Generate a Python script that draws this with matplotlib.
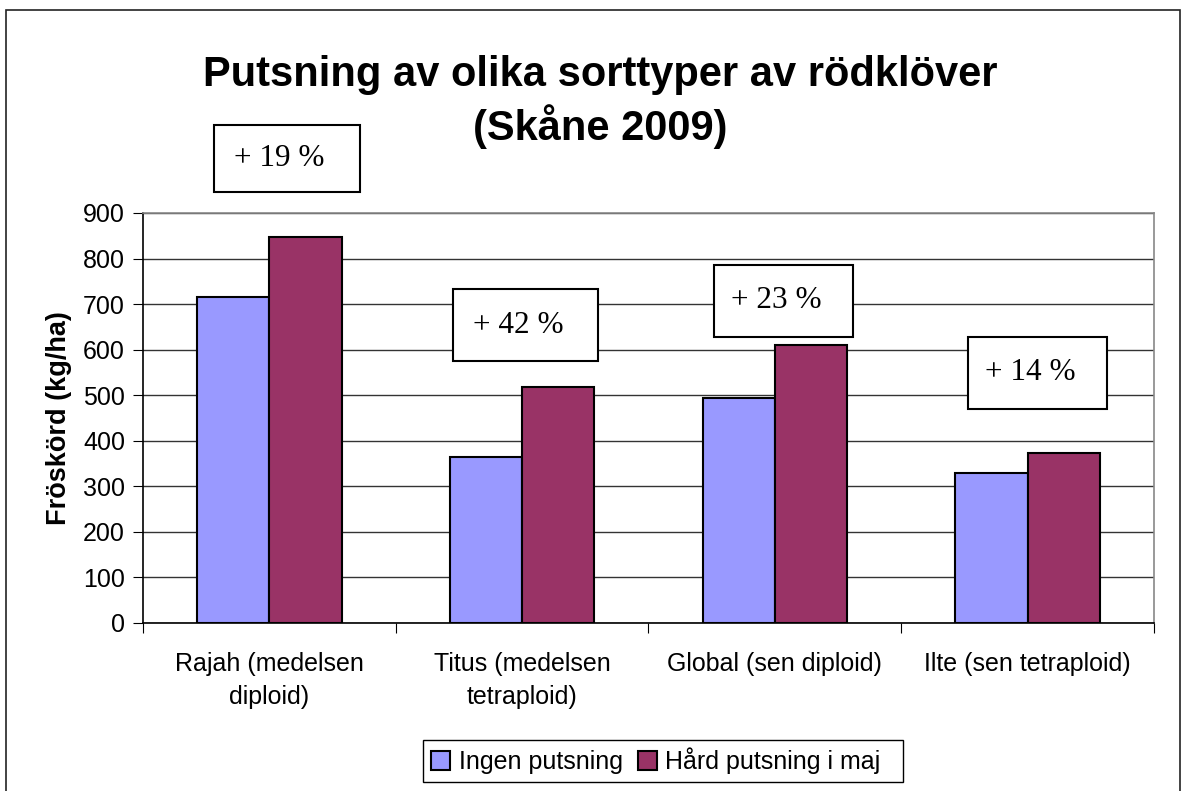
import matplotlib
matplotlib.use("Agg")
import matplotlib.pyplot as plt
from matplotlib.patches import Rectangle
import numpy as np

categories = ["Rajah (medelsen\ndiploid)", "Titus (medelsen\ntetraploid)",
              "Global (sen diploid)", "Ilte (sen tetraploid)"]
ingen = [716, 364, 495, 329]
hard = [848, 518, 610, 373]
series_names = ["Ingen putsning", "Hård putsning i maj"]
pct_labels = ["+ 19 %", "+ 42 %", "+ 23 %", "+ 14 %"]
yticks = [0, 100, 200, 300, 400, 500, 600, 700, 800, 900]

W, H = 1184, 791
fig = plt.figure(figsize=(W / 100, H / 100), dpi=100)
fig.patch.set_facecolor("white")

# outer chart border
fig.add_artist(Rectangle((6 / W, -0.01), (1180 - 6) / W, (H - 10) / H + 0.01,
                         transform=fig.transFigure, fill=False, ec="#222222", lw=1.2))

ax = fig.add_axes([143 / W, (H - 623) / H, (1154 - 143) / W, (623 - 213) / H])
x = np.arange(len(categories))
bw = 0.2857
ax.bar(x - bw / 2, ingen, bw, color="#9999FF", edgecolor="black", lw=1.5,
       label=series_names[0], zorder=3)
ax.bar(x + bw / 2, hard, bw, color="#993366", edgecolor="black", lw=1.5,
       label=series_names[1], zorder=3)

ax.set_xlim(-0.5, len(categories) - 0.5)
ax.set_ylim(0, 900)
ax.set_yticks(yticks)
ax.yaxis.grid(True, color="#333333", lw=1.0, zorder=0)
ax.set_axisbelow(True)

ax.set_xticks(np.arange(-0.5, len(categories), 1.0))
ax.set_xticklabels([])
ax.set_xticks(x, minor=True)
ax.set_xticklabels(categories, minor=True, fontsize=18, family="Liberation Sans",
                   linespacing=1.45)
ax.tick_params(axis="x", which="minor", length=0, pad=21)
ax.tick_params(axis="x", which="major", length=7, direction="out", color="black")
ax.tick_params(axis="y", length=7, direction="out", labelsize=18, pad=6)
for lab in ax.get_yticklabels():
    lab.set_family("Liberation Sans")

ax.spines["left"].set_color("black")
ax.spines["bottom"].set_color("black")
ax.spines["top"].set_color("#888888")
ax.spines["right"].set_color("#888888")
for s in ax.spines.values():
    s.set_linewidth(1.2)

ax.set_ylabel("Fröskörd (kg/ha)", fontsize=19.5, fontweight="bold",
              family="Liberation Sans", labelpad=8)

fig.text(600 / W, 1 - 75 / H, "Putsning av olika sorttyper av rödklöver",
         ha="center", va="center", fontsize=30, fontweight="bold", family="Liberation Sans")
fig.text(600 / W, 1 - 127 / H, "(Skåne 2009)",
         ha="center", va="center", fontsize=30, fontweight="bold", family="Liberation Sans")

# percentage annotation boxes (data coordinates: x0, x1, y0, y1)
boxes = [(-0.219, 0.359, 946, 1093),
         (0.727, 1.300, 575, 733),
         (1.759, 2.309, 628, 786),
         (2.764, 3.314, 470, 628)]
for (x0, x1, y0, y1), txt in zip(boxes, pct_labels):
    ax.add_patch(Rectangle((x0, y0), x1 - x0, y1 - y0, facecolor="white",
                           edgecolor="black", lw=1.5, clip_on=False, zorder=5))
    ax.text((x0 + x1) / 2 - 0.03, (y0 + y1) / 2, txt, ha="center", va="center",
            fontsize=22.5, family="Liberation Serif", zorder=6, clip_on=False)

# legend frame drawn manually (Excel-style, extra space at right)
fig.add_artist(Rectangle((423 / W, 1 - 782 / H), (903 - 423) / W, (782 - 740) / H,
                         transform=fig.transFigure, facecolor="white",
                         edgecolor="black", lw=1.0, zorder=4))
leg = fig.legend(loc="center", bbox_to_anchor=(656 / W, 1 - 761 / H), ncol=2,
                 frameon=False,
                 prop={"family": "Liberation Sans", "size": 18},
                 handlelength=0.75, handleheight=0.75, handletextpad=0.35,
                 columnspacing=0.6, borderpad=0.0, borderaxespad=0)
leg.set_zorder(5)
for h in leg.legend_handles:
    h.set_linewidth(1.5)

fig.savefig("out.png", dpi=100, facecolor="white")
